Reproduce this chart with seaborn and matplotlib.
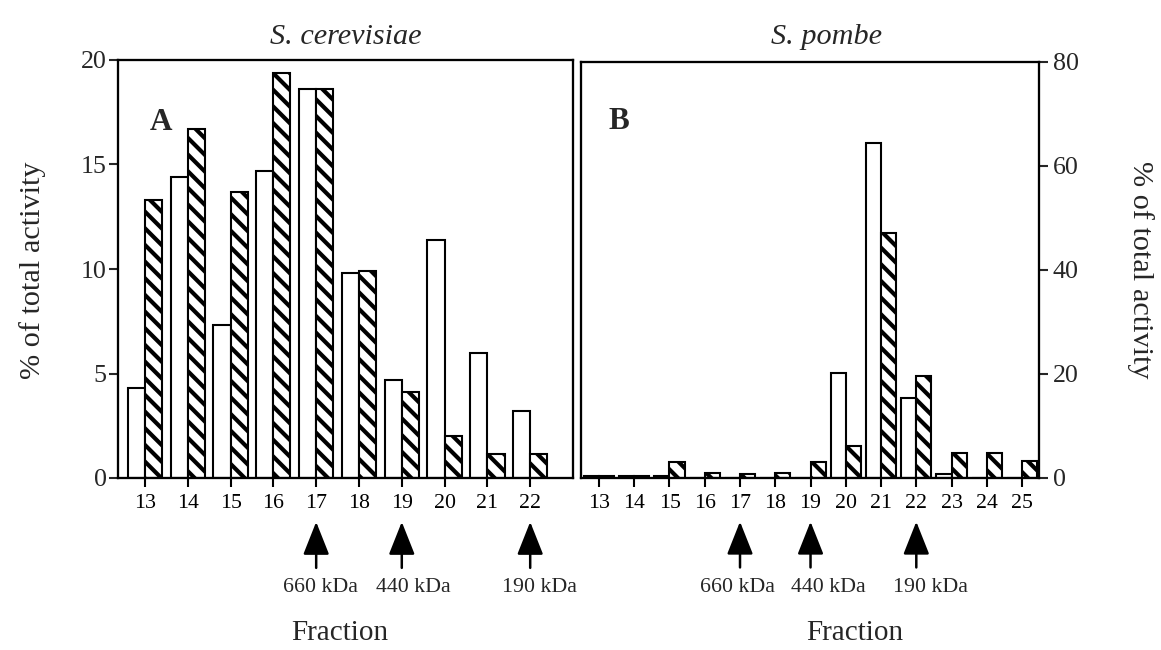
import matplotlib
matplotlib.use("Agg")
import matplotlib.pyplot as plt
import matplotlib.transforms as mtransforms
import seaborn as sns
import pandas as pd

# ---------------- data ----------------
fractions_A = [13, 14, 15, 16, 17, 18, 19, 20, 21, 22]
cerevisiae_open = [4.3, 14.4, 7.3, 14.7, 18.6, 9.8, 4.7, 11.4, 6.0, 3.2]
cerevisiae_hatched = [13.3, 16.7, 13.7, 19.4, 18.6, 9.9, 4.1, 2.0, 1.15, 1.15]

fractions_B = [13, 14, 15, 16, 17, 18, 19, 20, 21, 22, 23, 24, 25]
pombe_open = [0.3, 0.3, 0.3, 0, 0, 0, 0, 20.2, 64.4, 15.4, 0.8, 0, 0]
pombe_hatched = [0.3, 0.3, 3.0, 1.0, 0.8, 1.0, 3.0, 6.2, 47.2, 19.7, 4.8, 4.9, 3.2]

marker_fractions = [17, 19, 22]
marker_labels = ["660 kDa", "440 kDa", "190 kDa"]

yticks_A = [0, 5, 10, 15, 20]
yticks_B = [0, 20, 40, 60, 80]

# ---------------- style ----------------
sns.set_style("white")
plt.rcParams["font.family"] = ["Liberation Serif", "DejaVu Serif"]
plt.rcParams["hatch.linewidth"] = 2.0
plt.rcParams["hatch.color"] = "black"

W, H, DPI = 1161, 650, 150
fig = plt.figure(figsize=(W / DPI, H / DPI), dpi=DPI)
fig.patch.set_facecolor("white")


def fx(px):
    return px / W


def fy(py):
    return 1 - py / H


axA = fig.add_axes([fx(118), fy(478), fx(573) - fx(118), fy(60) - fy(478)])
axB = fig.add_axes([fx(581), fy(478), fx(1039) - fx(581), fy(62) - fy(478)])


def long_frame(fracs, opn, hat):
    n = len(fracs)
    return pd.DataFrame({
        "fraction": list(fracs) * 2,
        "value": list(opn) + list(hat),
        "series": ["open"] * n + ["hatched"] * n,
    })


def draw_panel(ax, fracs, opn, hat, width):
    df = long_frame(fracs, opn, hat)
    sns.barplot(data=df, x="fraction", y="value", hue="series",
                hue_order=["open", "hatched"], palette=["white", "white"],
                saturation=1, width=width, errorbar=None, legend=False,
                edgecolor="black", linewidth=1.0, ax=ax)
    for bar in ax.containers[1]:
        bar.set_hatch("\\\\\\")
        bar.set_edgecolor("black")
    for bar in ax.containers[0]:
        bar.set_edgecolor("black")
    ax.set_xlabel("")
    ax.set_ylabel("")
    for s in ax.spines.values():
        s.set_visible(True)
        s.set_color("black")
        s.set_linewidth(1.1)
    ax.set_facecolor("white")
    ax.tick_params(axis="x", direction="out", length=4.5, width=1.0,
                   labelsize=10.5, pad=3, bottom=True, colors="black")


draw_panel(axA, fractions_A, cerevisiae_open, cerevisiae_hatched, 0.8)
draw_panel(axB, fractions_B, pombe_open, pombe_hatched, 0.86)

# axis limits
axA.set_xlim(-0.63, len(fractions_A))
axA.set_ylim(0, 20)
axB.set_xlim(-0.51, len(fractions_B) - 0.52)
axB.set_ylim(0, 80)

# y axes
axA.set_yticks(yticks_A)
axA.set_yticklabels([str(v) for v in yticks_A])
axA.tick_params(axis="y", direction="out", length=4.5, width=1.0,
                labelsize=12.5, pad=1, left=True, right=False)

axB.yaxis.tick_right()
axB.set_yticks(yticks_B)
axB.set_yticklabels([str(v) for v in yticks_B])
axB.tick_params(axis="y", direction="out", length=4.5, width=1.0,
                labelsize=12.5, pad=2, left=False, right=True,
                labelleft=False, labelright=True)

# titles and panel letters
axA.text(0.5, 1.025, "S. cerevisiae", transform=axA.transAxes, ha="center",
         va="bottom", fontsize=14.5, style="italic")
axB.text(0.537, 1.03, "S. pombe", transform=axB.transAxes, ha="center",
         va="bottom", fontsize=14.5, style="italic")
axA.text(0.095, 0.85, "A", transform=axA.transAxes, ha="center", va="center",
         fontsize=15, fontweight="bold")
axB.text(0.083, 0.858, "B", transform=axB.transAxes, ha="center", va="center",
         fontsize=15, fontweight="bold")

# y labels
fig.text(fx(33), fy(270), "% of total activity", rotation=90, ha="center",
         va="center", fontsize=14.5)
fig.text(fx(1140), fy(270), "% of total activity", rotation=-90, ha="center",
         va="center", fontsize=14.5)

# Fraction labels
fig.text(fx(340), fy(633), "Fraction", ha="center", va="center", fontsize=14)
fig.text(fx(855), fy(633), "Fraction", ha="center", va="center", fontsize=14)

# size-marker arrows
label_offsets = {"A": [4, 12, 9], "B": [-3, 18, 14]}
for key, ax, fracs in (("A", axA, fractions_A), ("B", axB, fractions_B)):
    trans = mtransforms.blended_transform_factory(ax.transData, ax.transAxes)
    for f, lab, off in zip(marker_fractions, marker_labels, label_offsets[key]):
        xi = fracs.index(f)
        ax.annotate("", xy=(xi, -0.105), xytext=(xi, -0.215),
                    xycoords=trans, textcoords=trans, annotation_clip=False,
                    arrowprops=dict(arrowstyle="-|>,head_length=0.68,head_width=0.27",
                                    mutation_scale=20, lw=1.2, color="black",
                                    shrinkA=0, shrinkB=0))
        ax.annotate(lab, xy=(xi, -0.263), xycoords=trans,
                    xytext=(off * 72 / DPI, 0), textcoords="offset points",
                    ha="center", va="center", fontsize=10.5,
                    annotation_clip=False)

fig.savefig("out.png", dpi=DPI, facecolor="white")
